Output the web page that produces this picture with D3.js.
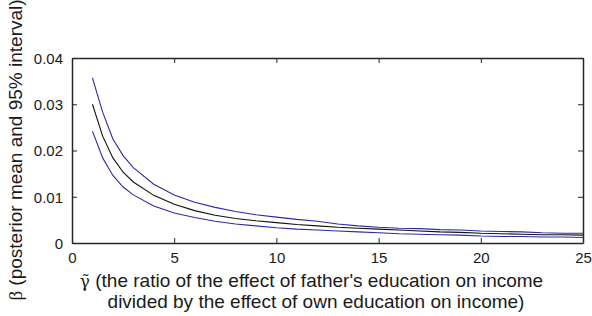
<!DOCTYPE html>
<meta charset="utf-8">
<script src="https://d3js.org/d3.v7.min.js"></script>
<style>
  body { margin: 0; background: #fff; }
  text { font-family: "Liberation Sans", Arial, sans-serif; fill: #1a1a1a; }
  .greek { font-family: "Liberation Serif", "Times New Roman", serif; }
  .gtilde { font-family: "DejaVu Serif", serif; }
</style>
<div id="viz"></div>
<script>

var gamma = [1, 1.5, 2, 2.5, 3, 4, 5, 6, 7, 8, 9, 10, 11, 12, 13, 14, 15, 16, 17, 18, 19, 20, 21, 22, 23, 24, 25];
var meanBeta = [0.0300, 0.0231, 0.0184, 0.0153, 0.0132, 0.0103, 0.0084, 0.0070, 0.0060, 0.0053, 0.0048, 0.0044, 0.0040, 0.0037, 0.0034, 0.0032, 0.0030, 0.0028, 0.0026, 0.0024, 0.0023, 0.0021, 0.0020, 0.0019, 0.0018, 0.0018, 0.0017];
var upperBeta = [0.0357, 0.0283, 0.0225, 0.0189, 0.0163, 0.0127, 0.0104, 0.0088, 0.0077, 0.0068, 0.0061, 0.0056, 0.0051, 0.0047, 0.0041, 0.0037, 0.0034, 0.0032, 0.0031, 0.0029, 0.0028, 0.0026, 0.0025, 0.0024, 0.0022, 0.0021, 0.0021];
var lowerBeta = [0.0242, 0.0184, 0.0146, 0.0121, 0.0104, 0.0080, 0.0065, 0.0055, 0.0047, 0.0041, 0.0037, 0.0033, 0.0030, 0.0028, 0.0026, 0.0024, 0.0022, 0.0020, 0.0019, 0.0018, 0.0017, 0.0015, 0.0014, 0.0014, 0.0013, 0.0013, 0.0012];
var xTicks = [0, 5, 10, 15, 20, 25];
var yTicks = [0, 0.01, 0.02, 0.03, 0.04];

var margin = {top: 58, right: 9, bottom: 73, left: 72},
    width = 592 - margin.left - margin.right,
    height = 316 - margin.top - margin.bottom;

var svg = d3.select("#viz")
  .append("svg")
    .attr("width", 592)
    .attr("height", 316)
  .append("g")
    .attr("transform", "translate(" + margin.left + "," + margin.top + ")");

var x = d3.scaleLinear().domain([0, 25]).range([0, width]);
var y = d3.scaleLinear().domain([0, 0.04]).range([height, 0]);

var fmt = function (d) { return d === 0 ? "0" : d3.format(".2f")(d); };

// box: axes on all four sides, ticks pointing inward
svg.append("g")
  .attr("transform", "translate(0," + height + ")")
  .call(d3.axisBottom(x).tickValues(xTicks).tickSize(-5).tickSizeOuter(0).tickPadding(9));
svg.append("g")
  .call(d3.axisTop(x).tickValues(xTicks).tickSize(-5).tickSizeOuter(0).tickFormat(""));
var left = svg.append("g")
  .call(d3.axisLeft(y).tickValues(yTicks).tickSize(-5).tickSizeOuter(0).tickPadding(9).tickFormat(fmt));
svg.append("g")
  .attr("transform", "translate(" + width + ",0)")
  .call(d3.axisRight(y).tickValues(yTicks).tickSize(-5).tickSizeOuter(0).tickFormat(""));

svg.selectAll(".domain").attr("stroke", "#262626").attr("stroke-width", 1.5);
svg.selectAll(".tick line").attr("stroke", "#262626");
svg.selectAll(".tick text").style("font-size", "15px").attr("fill", "#1a1a1a");
left.selectAll(".tick text").attr("dy", "0.36em");

var line = function (vals) {
  return d3.line()
    .x(function (d, i) { return x(gamma[i]); })
    .y(function (d) { return y(d); })(vals);
};

svg.append("path").attr("d", line(upperBeta))
  .attr("fill", "none").attr("stroke", "#2b2ba8").attr("stroke-width", 1.1);
svg.append("path").attr("d", line(lowerBeta))
  .attr("fill", "none").attr("stroke", "#2b2ba8").attr("stroke-width", 1.1);
svg.append("path").attr("d", line(meanBeta))
  .attr("fill", "none").attr("stroke", "#111").attr("stroke-width", 1.1);

// y label
var yl = svg.append("text")
  .attr("transform", "rotate(-90)")
  .attr("x", -92)
  .attr("y", -50)
  .attr("text-anchor", "middle")
  .style("font-size", "19px");
yl.append("tspan").attr("class", "greek").text("\u03b2");
yl.append("tspan").text(" (posterior mean and 95% interval)");

// x label (gamma with combining tilde)
var xl = svg.append("text")
  .attr("text-anchor", "middle")
  .style("font-size", "19px");
var l1 = xl.append("tspan").attr("x", 239.5).attr("y", height + 44);
l1.append("tspan").attr("class", "gtilde").style("font-size", "17px").text("\u03b3\u0303");
l1.append("tspan").text(" (the ratio of the effect of father's education on income");
xl.append("tspan").attr("x", 244).attr("y", height + 65)
  .text("divided by the effect of own education on income)");

</script>
